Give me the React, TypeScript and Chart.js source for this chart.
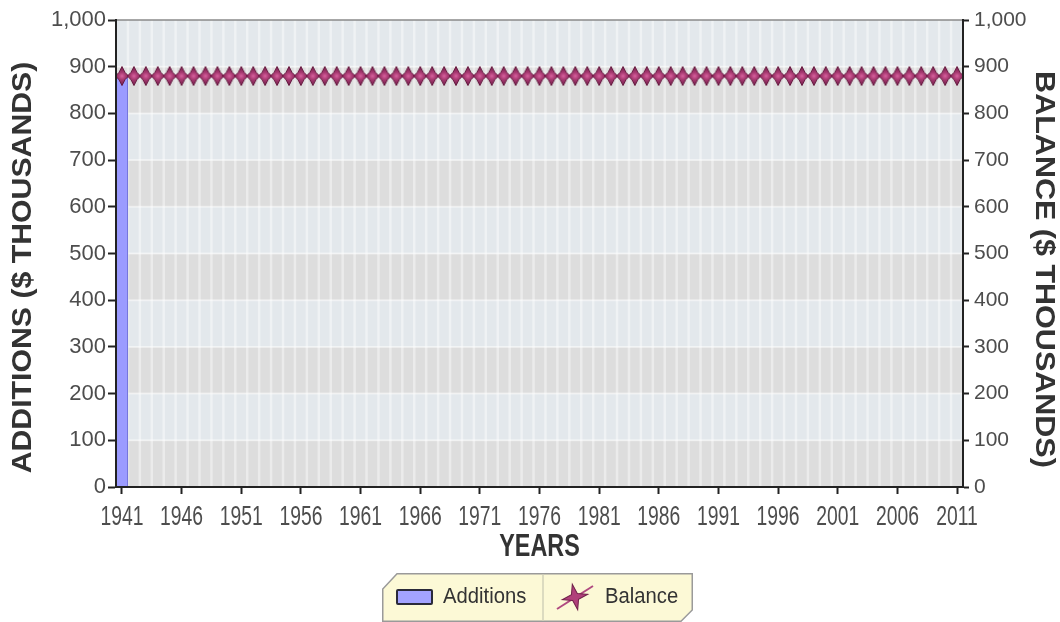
import React, { useEffect, useRef } from 'react';
import { Chart, registerables } from 'chart.js';

Chart.register(...registerables);

const years: string[] = [
  '1941', '1942', '1943', '1944', '1945', '1946', '1947', '1948', '1949', '1950',
  '1951', '1952', '1953', '1954', '1955', '1956', '1957', '1958', '1959', '1960',
  '1961', '1962', '1963', '1964', '1965', '1966', '1967', '1968', '1969', '1970',
  '1971', '1972', '1973', '1974', '1975', '1976', '1977', '1978', '1979', '1980',
  '1981', '1982', '1983', '1984', '1985', '1986', '1987', '1988', '1989', '1990',
  '1991', '1992', '1993', '1994', '1995', '1996', '1997', '1998', '1999', '2000',
  '2001', '2002', '2003', '2004', '2005', '2006', '2007', '2008', '2009', '2010',
  '2011',
];

const additions: number[] = [
  880, 0, 0, 0, 0, 0, 0, 0, 0, 0,
  0, 0, 0, 0, 0, 0, 0, 0, 0, 0,
  0, 0, 0, 0, 0, 0, 0, 0, 0, 0,
  0, 0, 0, 0, 0, 0, 0, 0, 0, 0,
  0, 0, 0, 0, 0, 0, 0, 0, 0, 0,
  0, 0, 0, 0, 0, 0, 0, 0, 0, 0,
  0, 0, 0, 0, 0, 0, 0, 0, 0, 0,
  0,
];

const balance: number[] = [
  880, 880, 880, 880, 880, 880, 880, 880, 880, 880,
  880, 880, 880, 880, 880, 880, 880, 880, 880, 880,
  880, 880, 880, 880, 880, 880, 880, 880, 880, 880,
  880, 880, 880, 880, 880, 880, 880, 880, 880, 880,
  880, 880, 880, 880, 880, 880, 880, 880, 880, 880,
  880, 880, 880, 880, 880, 880, 880, 880, 880, 880,
  880, 880, 880, 880, 880, 880, 880, 880, 880, 880,
  880,
];

const xTickLabels: string[] = [
  '1941', '1946', '1951', '1956', '1961', '1966', '1971', '1976',
  '1981', '1986', '1991', '1996', '2001', '2006', '2011',
];

const xTitle = 'YEARS';
const yTitle = 'ADDITIONS ($ THOUSANDS)';
const y1Title = 'BALANCE ($ THOUSANDS)';

const yMin = 0;
const yMax = 1000;
const yStep = 100;

const SANS = '"Liberation Sans", Arial, sans-serif';

function makeStar(): HTMLCanvasElement {
  const c = document.createElement('canvas');
  c.width = 14;
  c.height = 20;
  const g = c.getContext('2d')!;
  const cx = 7;
  const cy = 10;
  g.beginPath();
  g.moveTo(cx, 0.5);
  g.lineTo(cx + 3, cy - 3.6);
  g.lineTo(13.6, cy);
  g.lineTo(cx + 3, cy + 3.6);
  g.lineTo(cx, 19.5);
  g.lineTo(cx - 3, cy + 3.6);
  g.lineTo(0.4, cy);
  g.lineTo(cx - 3, cy - 3.6);
  g.closePath();
  const grad = g.createRadialGradient(cx, cy, 0, cx, cy, 8);
  grad.addColorStop(0, '#d8629e');
  grad.addColorStop(0.45, '#a83a72');
  grad.addColorStop(1, '#7e2352');
  g.fillStyle = grad;
  g.fill();
  g.strokeStyle = '#65183f';
  g.lineWidth = 1;
  g.stroke();
  return c;
}

const bgPlugin = {
  id: 'bandBackground',
  beforeDraw(chart: any) {
    const { ctx, chartArea: a, scales } = chart;
    const ys = scales.y;
    const ticks = ys.ticks.map((t: any) => t.value);
    ctx.save();
    for (let k = 0; k < ticks.length - 1; k++) {
      const yb = ys.getPixelForValue(ticks[k]);
      const yt = ys.getPixelForValue(ticks[k + 1]);
      ctx.fillStyle = k % 2 === 0 ? '#dddddd' : '#e3e8ec';
      ctx.fillRect(a.left, yt, a.right - a.left, yb - yt);
    }
    const n = chart.data.labels.length;
    const w = (a.right - a.left) / n;
    ctx.strokeStyle = 'rgba(255,255,255,0.42)';
    ctx.lineWidth = 2.5;
    for (let i = 1; i < n; i++) {
      const x = a.left + i * w;
      ctx.beginPath();
      ctx.moveTo(x, a.top);
      ctx.lineTo(x, a.bottom);
      ctx.stroke();
    }
    ctx.strokeStyle = 'rgba(255,255,255,0.45)';
    ctx.lineWidth = 2;
    for (let k = 1; k < ticks.length - 1; k++) {
      const y = ys.getPixelForValue(ticks[k]);
      ctx.beginPath();
      ctx.moveTo(a.left, y);
      ctx.lineTo(a.right, y);
      ctx.stroke();
    }
    ctx.strokeStyle = '#8a8a8a';
    ctx.lineWidth = 1.5;
    ctx.beginPath();
    ctx.moveTo(a.left, a.top);
    ctx.lineTo(a.right, a.top);
    ctx.stroke();
    ctx.restore();
  },
};

const textPlugin = {
  id: 'axisText',
  afterDraw(chart: any) {
    const { ctx, chartArea: a, scales } = chart;
    const xs = scales.x;
    ctx.save();
    // x tick labels (condensed)
    ctx.fillStyle = '#4d4d4d';
    ctx.font = `28px ${SANS}`;
    ctx.textAlign = 'center';
    ctx.textBaseline = 'alphabetic';
    years.forEach((lab, i) => {
      if (!xTickLabels.includes(lab)) return;
      const x = xs.getPixelForValue(i);
      ctx.save();
      ctx.translate(x, a.bottom + 38);
      ctx.scale(0.69, 1);
      ctx.fillText(lab, 0, 0);
      ctx.restore();
    });
    // x title
    ctx.fillStyle = '#333333';
    ctx.font = `bold 32px ${SANS}`;
    ctx.save();
    ctx.translate((a.left + a.right) / 2, a.bottom + 69);
    ctx.scale(0.73, 1);
    ctx.fillText(xTitle, 0, 0);
    ctx.restore();
    // left title
    ctx.font = `bold 28px ${SANS}`;
    ctx.textBaseline = 'middle';
    ctx.save();
    ctx.translate(23, (a.top + a.bottom) / 2 + 14);
    ctx.rotate(-Math.PI / 2);
    ctx.scale(1.08, 1);
    ctx.fillText(yTitle, 0, 0);
    ctx.restore();
    // right title
    ctx.save();
    ctx.translate(1044, (a.top + a.bottom) / 2 + 16);
    ctx.rotate(Math.PI / 2);
    ctx.scale(1.09, 1);
    ctx.fillText(y1Title, 0, 0);
    ctx.restore();
    ctx.restore();
  },
};

function LegendStar() {
  return (
    <svg width={40} height={32} viewBox="0 0 40 32" style={{ display: 'block' }}>
      <line x1={2} y1={28} x2={38} y2={5} stroke="#b04a80" strokeWidth={2} />
      <polygon
        points="20,3 23,13 33,16 23,19 20,29 17,19 7,16 17,13"
        fill="#b0407a"
        stroke="#70204a"
        strokeWidth={1}
        transform="rotate(-12 20 16)"
      />
    </svg>
  );
}

export default function App() {
  const canvasRef = useRef<HTMLCanvasElement | null>(null);

  useEffect(() => {
    if (!canvasRef.current) return;
    const star = makeStar();
    const chart = new Chart(canvasRef.current, {
      type: 'bar',
      data: {
        labels: years,
        datasets: [
          {
            type: 'line',
            label: 'Balance',
            data: balance,
            yAxisID: 'y1',
            borderColor: '#8b2252',
            borderWidth: 2,
            pointStyle: star as any,
            pointRadius: 7,
            order: 0,
          } as any,
          {
            type: 'bar',
            label: 'Additions',
            data: additions,
            yAxisID: 'y',
            backgroundColor: '#9b9bff',
            borderColor: '#6a6ad0',
            borderWidth: 1,
            barPercentage: 1,
            categoryPercentage: 1,
            order: 1,
          } as any,
        ],
      },
      options: {
        animation: false,
        responsive: false,
        layout: { padding: { top: 20, left: 0, right: 0, bottom: 0 } },
        plugins: {
          legend: { display: false },
          tooltip: { enabled: false },
        },
        scales: {
          x: {
            offset: true,
            grid: {
              offset: false,
              drawOnChartArea: false,
              drawTicks: true,
              tickLength: 7,
              tickWidth: 2,
              tickColor: (ctx: any) =>
                xTickLabels.includes(years[ctx.index]) ? '#222222' : 'rgba(0,0,0,0)',
            },
            border: { display: true, color: '#222222', width: 2, z: 1 },
            ticks: { display: false, autoSkip: false, maxRotation: 0 },
            title: { display: false },
            afterFit: (s: any) => {
              s.height = 135;
            },
          } as any,
          y: {
            position: 'left',
            min: yMin,
            max: yMax,
            ticks: {
              stepSize: yStep,
              padding: 2,
              color: '#4d4d4d',
              font: { family: SANS, size: 22 },
            },
            grid: { drawOnChartArea: false, tickLength: 8, tickWidth: 2, tickColor: '#222222' },
            border: { display: true, color: '#222222', width: 2, z: 1 },
            title: { display: false },
            afterFit: (s: any) => {
              s.width = 116;
            },
          } as any,
          y1: {
            position: 'right',
            min: yMin,
            max: yMax,
            ticks: {
              stepSize: yStep,
              padding: 5,
              color: '#4d4d4d',
              font: { family: SANS, size: 21 },
            },
            grid: { drawOnChartArea: false, tickLength: 6, tickWidth: 2, tickColor: '#222222' },
            border: { display: true, color: '#222222', width: 2, z: 1 },
            title: { display: false },
            afterFit: (s: any) => {
              s.width = 97;
            },
          } as any,
        },
      },
      plugins: [bgPlugin, textPlugin],
    });
    return () => chart.destroy();
  }, []);

  return (
    <div style={{ position: 'absolute', left: 0, top: 0, width: 1060, height: 622, background: '#ffffff', overflow: 'hidden' }}>
      <canvas ref={canvasRef} width={1060} height={622} style={{ display: 'block', width: 1060, height: 622 }} />
      <div style={{ position: 'absolute', left: 382, top: 573, width: 311, height: 49 }}>
        <svg width={311} height={49} style={{ position: 'absolute', left: 0, top: 0 }}>
          <polygon
            points="15,0.75 310.25,0.75 310.25,37 299,48.25 0.75,48.25 0.75,16"
            fill="#fcf9d6"
            stroke="#9a9a9a"
            strokeWidth={1.5}
          />
          <line x1={161} y1={1.5} x2={161} y2={48} stroke="#d2d0b8" strokeWidth={1.5} />
        </svg>
        <div
          style={{
            position: 'absolute',
            left: 14,
            top: 16,
            width: 33,
            height: 12,
            background: '#a3a3ff',
            border: '2px solid #2a2a3a',
            borderRadius: 2,
          }}
        />
        <div
          style={{
            position: 'absolute',
            left: 61,
            top: 10,
            fontFamily: SANS,
            fontSize: 22,
            color: '#333333',
            lineHeight: '26px',
            whiteSpace: 'nowrap',
            transform: 'scaleX(0.92)',
            transformOrigin: 'left center',
          }}
        >
          Additions
        </div>
        <div style={{ position: 'absolute', left: 173, top: 8 }}>
          <LegendStar />
        </div>
        <div
          style={{
            position: 'absolute',
            left: 223,
            top: 10,
            fontFamily: SANS,
            fontSize: 22,
            color: '#333333',
            lineHeight: '26px',
            whiteSpace: 'nowrap',
            transform: 'scaleX(0.92)',
            transformOrigin: 'left center',
          }}
        >
          Balance
        </div>
      </div>
    </div>
  );
}
